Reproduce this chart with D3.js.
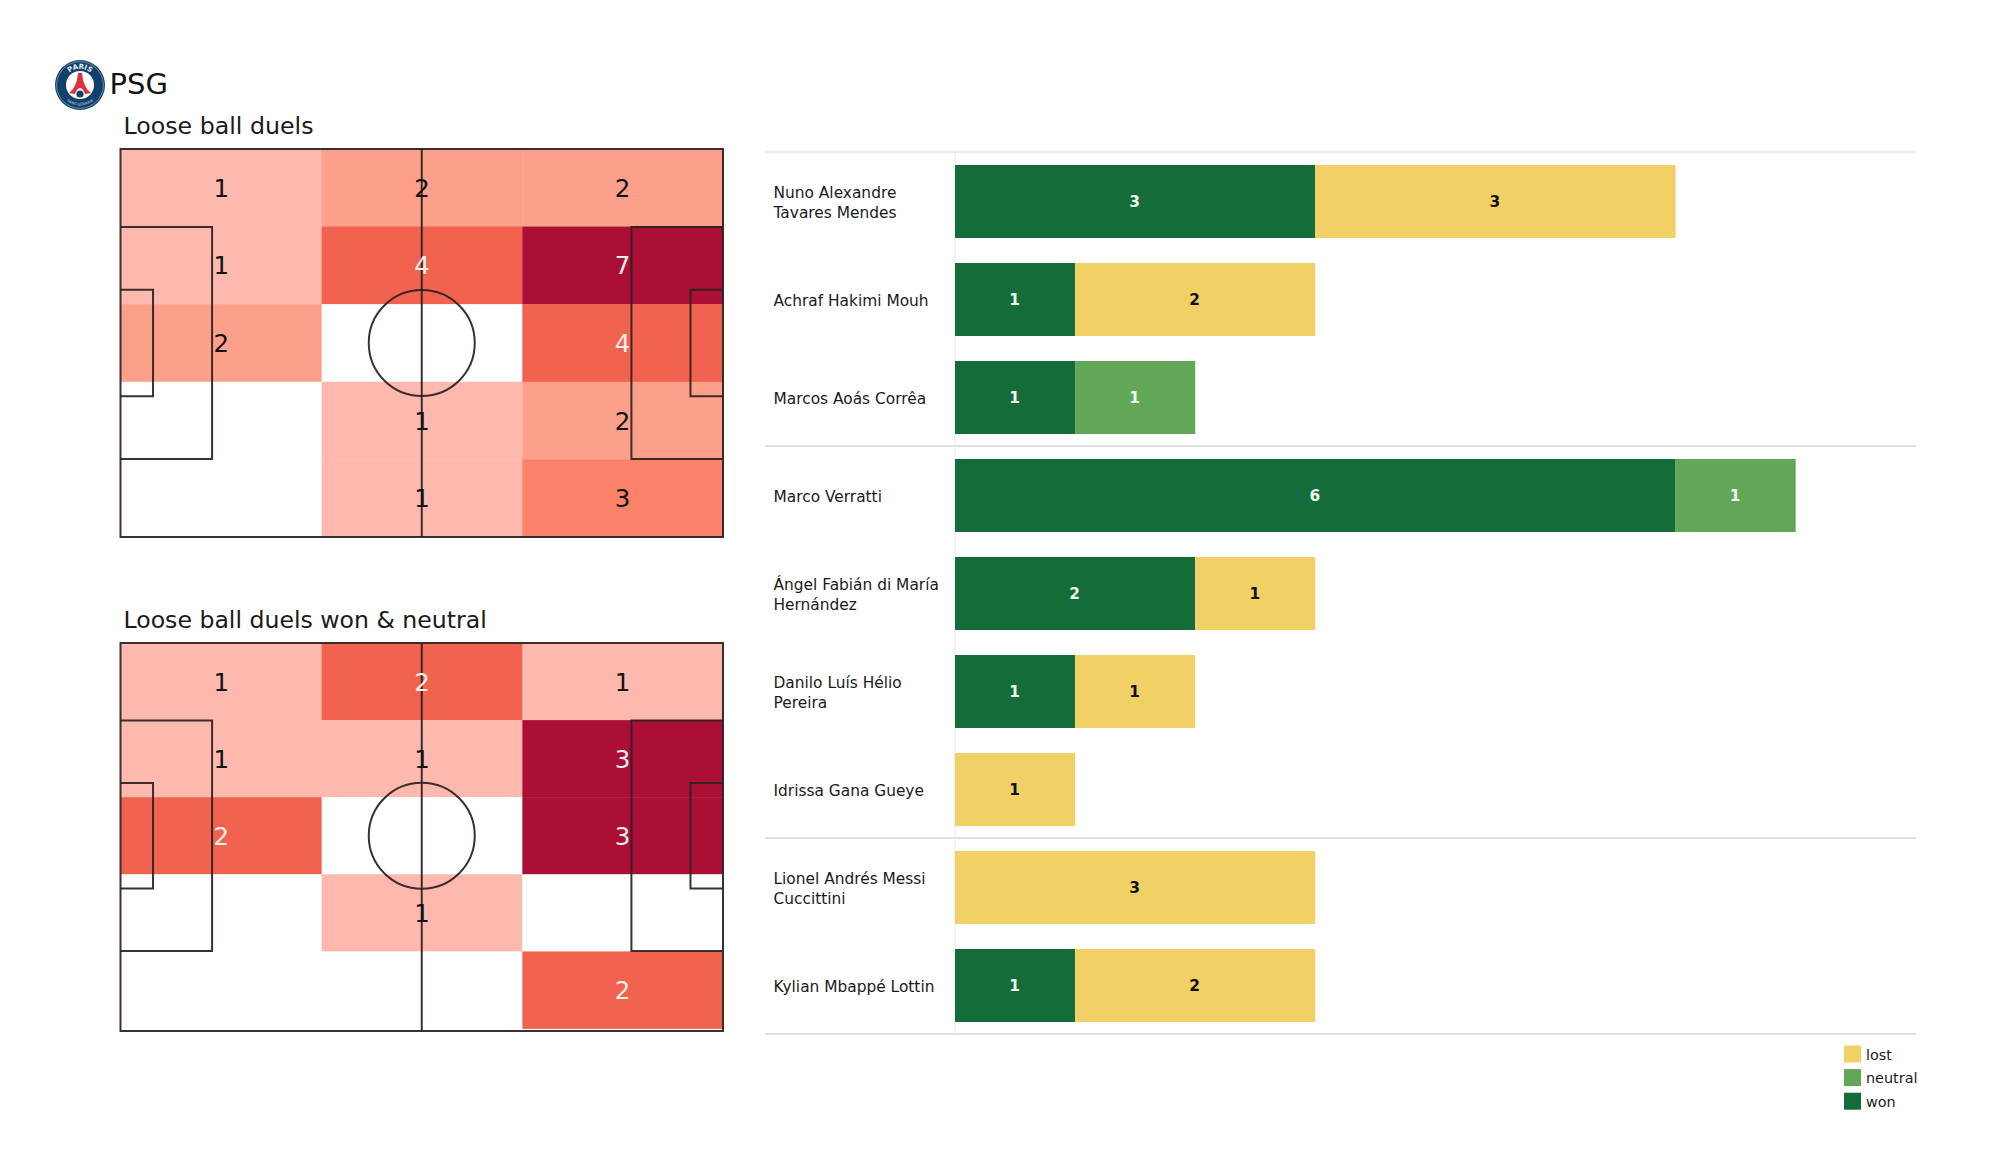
<!DOCTYPE html>
<html><head><meta charset="utf-8">
<script src="https://cdn.jsdelivr.net/npm/d3@7"></script>
<style>html,body{margin:0;background:#fff}svg{display:block}text{font-family:"DejaVu Sans";}</style>
</head><body><svg id="c" width="2000" height="1175"></svg>
<script>
const teamName = "PSG";
const titleAll = "Loose ball duels";
const titleWon = "Loose ball duels won & neutral";
// heatmap counts: rows top → bottom, columns left → right
const duelsAll = [[1,2,2],[1,4,7],[2,0,4],[0,1,2],[0,1,3]];
const duelsWon = [[1,2,1],[1,1,3],[2,0,3],[0,1,0],[0,0,2]];
const players = [["Nuno Alexandre","Tavares Mendes"],["Achraf Hakimi Mouh"],["Marcos Aoás Corrêa"],["Marco Verratti"],["Ángel Fabián di María","Hernández"],["Danilo Luís Hélio","Pereira"],["Idrissa Gana Gueye"],["Lionel Andrés Messi","Cuccittini"],["Kylian Mbappé Lottin"]];
const won     = [3,1,1,6,2,1,0,0,1];
const neutral = [0,0,1,1,0,0,0,0,0];
const lost    = [3,2,0,0,1,1,1,3,2];
const groupBreaks = [3,7];
const seriesKeys = ["won","neutral","lost"];
const seriesColors = {won:"#146c39",neutral:"#62a758",lost:"#f1d066"};
const legendOrder = ["lost","neutral","won"];

const svg = d3.select("#c");

// logo
const logo = svg.append("g").attr("transform","translate(80,85)");
logo.append("circle").attr("r",25).attr("fill","#11406d");
logo.append("circle").attr("r",23.4).attr("fill","none").attr("stroke","#8fa6bd").attr("stroke-width",.7);
logo.append("circle").attr("r",14).attr("fill","#fff");
logo.append("path").attr("d","M-11,8 Q-3,2 -2,-12 L2,-12 Q3,2 11,8 L5,9 Q3,3 0,3 Q-3,3 -5,9 Z").attr("fill","#d9313f");
logo.append("circle").attr("cy",9).attr("r",3.6).attr("fill","#11406d");
logo.append("path").attr("id","arc1").attr("d","M-16,-3 A16.3,16.3 0 0 1 16,-3").attr("fill","none");
logo.append("text").attr("font-size",7).attr("font-weight",700).attr("fill","#e8eef4").append("textPath").attr("href","#arc1").attr("startOffset","50%").attr("text-anchor","middle").text("PARIS");
logo.append("path").attr("id","arc2").attr("d","M-20,6 A21,21 0 0 0 20,6").attr("fill","none");
logo.append("text").attr("font-size",3.6).attr("fill","#c9d6e2").append("textPath").attr("href","#arc2").attr("startOffset","50%").attr("text-anchor","middle").text("SAINT-GERMAIN");

svg.append("text").attr("x",109.5).attr("y",94).attr("font-size",29).attr("fill","#111").text(teamName);

function pitch(top,cellH,title,titleSize,data,scaleMax){
  const g = svg.append("g");
  const x0=120.5, x1=723, y1=top+388;
  g.append("text").attr("x",123.5).attr("y",top-15.5).attr("font-size",titleSize).attr("fill","#1a1a1a").text(title);
  const xs = d3.scaleBand().domain(d3.range(3)).range([121,723]);
  const ys = d3.scaleBand().domain(d3.range(5)).range([top,top+cellH]);
  const c = d3.scaleLinear().domain(scaleMax.dom).range(scaleMax.col).interpolate(d3.interpolateRgb);
  data.forEach((row,r)=>row.forEach((v,k)=>{
    g.append("rect").attr("x",xs(k)).attr("y",ys(r)).attr("width",xs.bandwidth()+.4).attr("height",ys.bandwidth()+.4).attr("fill",v===0?"#fff":c(v));
  }));
  const sx=d3.scaleLinear().domain([0,100]).range([x0,x1]);
  const sy=d3.scaleLinear().domain([0,100]).range([top,top+cellH]);
  const ln=g.append("g").attr("fill","none").attr("stroke","#2b2021").attr("stroke-opacity",.92).attr("stroke-width",2);
  ln.append("rect").attr("x",x0).attr("y",top).attr("width",x1-x0).attr("height",y1-top);
  ln.append("line").attr("x1",sx(50)).attr("x2",sx(50)).attr("y1",top).attr("y2",y1);
  ln.append("ellipse").attr("cx",sx(50)).attr("cy",sy(50)).attr("rx",53).attr("ry",53);
  const bw=(sx(15.2)-sx(0)), sw=(sx(5.4)-sx(0));
  [[0,1],[100,-1]].forEach(([e,d])=>{
    const X=sx(e);
    ln.append("path").attr("d",`M${X},${sy(20.1)}H${X+d*bw}V${sy(79.9)}H${X}`);
    ln.append("path").attr("d",`M${X},${sy(36.3)}H${X+d*sw}V${sy(63.7)}H${X}`);
  });
  data.forEach((row,r)=>row.forEach((v,k)=>{
    if(!v) return;
    g.append("text").attr("x",xs(k)+xs.bandwidth()/2).attr("y",ys(r)+ys.bandwidth()/2+9)
     .attr("text-anchor","middle").attr("font-size",24.5).attr("fill",scaleMax.light(v)?"#f5efec":"#111").text(v);
  }));
}
pitch(149,388,titleAll,23.7,duelsAll,{dom:[1,2,3,4,7],col:["#fdb9ae","#fca08b","#fc826a","#f1634f","#ab0f36"],light:v=>v>=4});
pitch(643,385.5,titleWon,23.6,duelsWon,{dom:[1,2,3],col:["#fdb9ae","#f1634f","#ab0f36"],light:v=>v>=2});

// bars
const x = d3.scaleLinear().domain([0,1]).range([955,1075.1]);
const y = d3.scaleBand().domain(d3.range(players.length)).range([152.5,1034.5]).paddingInner(.255).paddingOuter(.1275);
const table = players.map((p,i)=>({i,won:won[i],neutral:neutral[i],lost:lost[i]}));
const stacked = d3.stack().keys(seriesKeys)(table);
const barG = svg.append("g");
[0,...groupBreaks,players.length].forEach(b=>{
  const yy = 152 + b*98;
  barG.append("line").attr("x1",765).attr("x2",1916).attr("y1",yy).attr("y2",yy).attr("stroke",b===0?"#e2e2e2":"#d4d4d4").attr("stroke-width",1.3);
});
barG.append("line").attr("x1",955).attr("x2",955).attr("y1",152).attr("y2",1034).attr("stroke","#e8e8e8").attr("stroke-width",1);
stacked.forEach(s=>{
  s.forEach((d,i)=>{
    if(d[1]===d[0]) return;
    barG.append("rect").attr("x",x(d[0])).attr("y",y(i)).attr("width",x(d[1])-x(d[0])).attr("height",y.bandwidth()).attr("fill",seriesColors[s.key]);
    barG.append("text").attr("x",(x(d[0])+x(d[1]))/2-.5).attr("y",y(i)+y.bandwidth()/2+5.5).attr("text-anchor","middle")
      .attr("font-size",15.4).attr("font-weight",700).attr("fill",s.key==="lost"?"#111":"#f2f6f0").text(d[1]-d[0]);
  });
});
players.forEach((lines,i)=>{
  const cy=y(i)+y.bandwidth()/2;
  lines.forEach((t,j)=>{
    barG.append("text").attr("x",773.5).attr("y",cy+6+(j-(lines.length-1)/2)*20).attr("font-size",15.4).attr("fill","#1a1a1a").text(t);
  });
});
// legend
legendOrder.forEach((k,i)=>{
  const yy=1045.5+i*23.6;
  svg.append("rect").attr("x",1844).attr("y",yy).attr("width",17).attr("height",17).attr("fill",seriesColors[k]);
  svg.append("text").attr("x",1866).attr("y",yy+14).attr("font-size",14.4).attr("fill","#1a1a1a").text(k);
});
</script></body></html>
